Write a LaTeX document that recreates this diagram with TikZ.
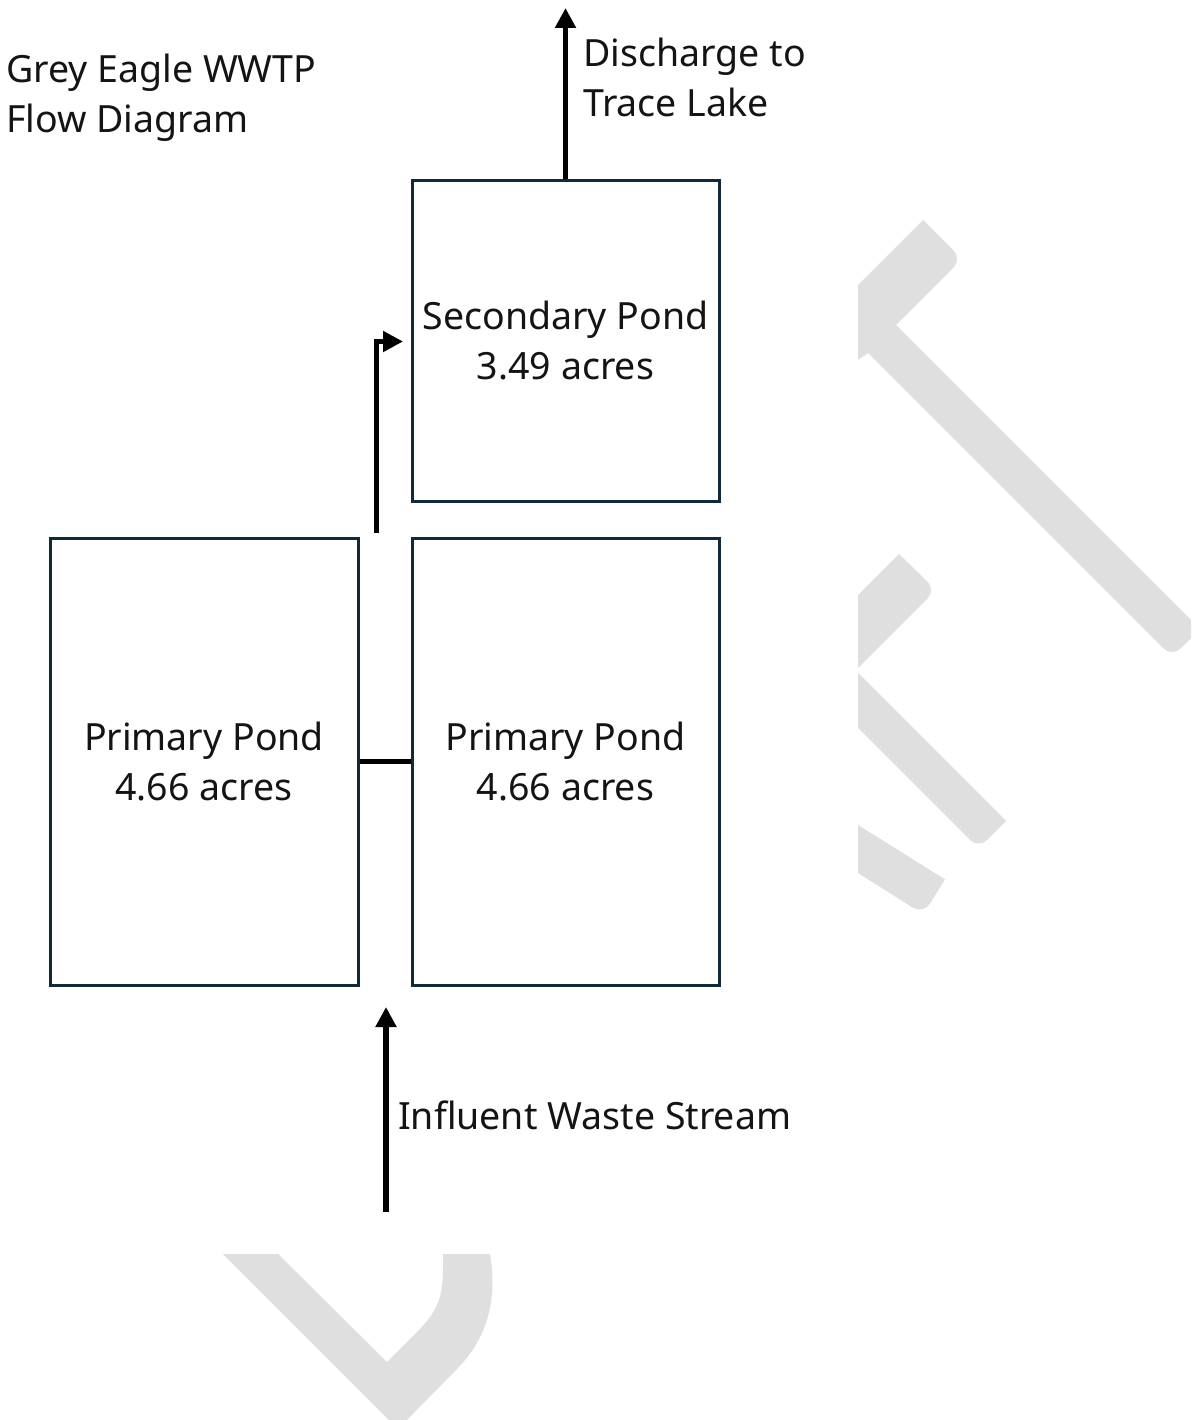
\documentclass[tikz,border=0pt]{standalone}
\usepackage{fontspec}
\setmainfont{Noto Sans}
\usetikzlibrary{arrows.meta}
\definecolor{pondline}{RGB}{16,42,58}
\definecolor{wm}{RGB}{223,223,223}
\definecolor{txt}{RGB}{20,20,20}
\begin{document}
\begin{tikzpicture}[x=1pt,y=-1pt,
  pond/.style={draw=pondline, line width=3pt, inner sep=0pt, align=center,
    text=txt, font=\fontsize{37.5}{50}\selectfont},
  lbl/.style={inner sep=0pt, align=left, text=txt, font=\fontsize{37.5}{50}\selectfont},
  flow/.style={line width=5.5pt, line join=miter, -{Triangle[width=20pt,length=20pt]}},
  conn/.style={line width=5.5pt}]
\fill[white] (0,0) rectangle (1191,1420);
\useasboundingbox (0,0) rectangle (1191,1420);
% watermark shapes
\begin{scope}
\clip (858,0) rectangle (1191,1420);
\fill[wm] (840,303) -- (923,220) [rounded corners=12pt] -- (962,259) [sharp corners] -- (896,325)
  -- (1200,629) [rounded corners=12pt] -- (1172,657) [sharp corners] -- (868,353)
  -- (845,369) -- (840,369) -- cycle;
\fill[wm] (840,613) -- (899,554) [rounded corners=12pt] -- (936,590) [sharp corners] -- (855.5,670.5)
  -- (1006,821) [rounded corners=12pt] -- (978.5,848.5) [sharp corners] -- (840,710)
  -- cycle;
\fill[wm] (840,813.75) -- (945,879.4) [rounded corners=12pt] -- (923.3,914.2) [sharp corners] -- (840,861.7)
  -- cycle;
\end{scope}
\begin{scope}
\clip (0,1254) rectangle (1191,1420);
\fill[wm] (209,1240) -- (398,1429) -- (455,1371)
  .. controls (497,1330) and (497,1280) .. (487,1240) -- (443,1240) -- (443,1270)
  .. controls (443,1298) and (436,1312) .. (420,1329) -- (387,1362) -- (264,1240) -- cycle;
\end{scope}
% title
\node[lbl, anchor=west] (title) at (6,98) {Grey Eagle WWTP\\Flow Diagram};
% ponds
\node[pond, minimum width=307pt, minimum height=320pt] (sec) at (565.5,341)
  {Secondary Pond\\3.49 acres};
\node[pond, minimum width=308pt, minimum height=447pt] (pl) at (204,761.5)
  {Primary Pond\\4.66 acres};
\node[pond, minimum width=307pt, minimum height=447pt] (pr) at (565.5,761.5)
  {Primary Pond\\4.66 acres};
% connectors
\draw[conn] (pl.east) -- (pr.west);
\coordinate (bendstart) at (376.5,533);
\coordinate (bendend) at (403,341.5);
\draw[flow] (bendstart) |- (bendend);
\coordinate (dtip) at (565.5,8);
\draw[flow] (sec.north) -- (dtip);
\node[lbl, anchor=west] (dis) at (583,77.75) {Discharge to\\Trace Lake};
\coordinate (inA) at (386,1212);
\coordinate (inB) at (386,1007);
\draw[flow] (inA) -- (inB);
\node[lbl, anchor=base west] (inf) at (398,1129) {Influent Waste Stream};
\end{tikzpicture}
\end{document}
